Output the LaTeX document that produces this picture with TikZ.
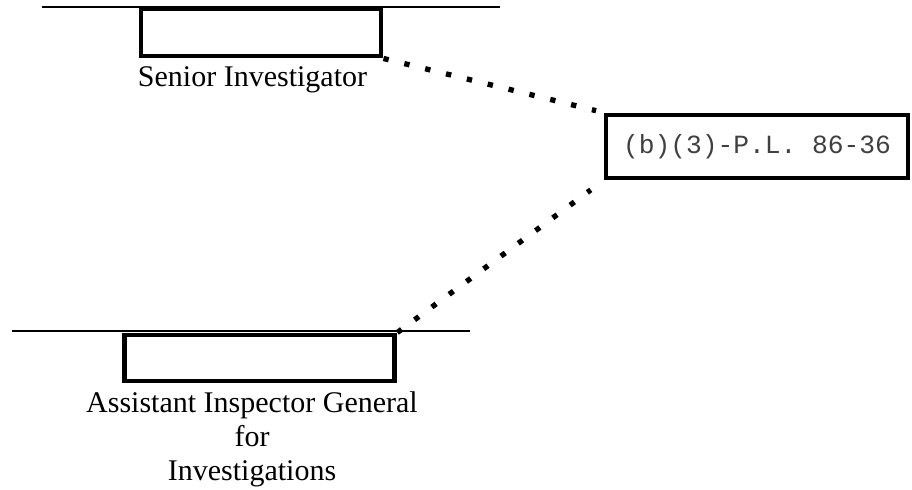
\documentclass[tikz,border=0pt]{standalone}
\usepackage{fontspec}
\setmainfont{Liberation Serif}
\setmonofont{Liberation Mono}
\begin{document}
\begin{tikzpicture}[x=0.75pt,y=-0.75pt,
  box/.style={draw=black,line width=3.7pt,inner sep=0pt,fill=white},
  rule/.style={draw=black,line width=1.1pt},
  dots/.style={draw=black,line width=4pt,line cap=butt,dash pattern=on 4pt off 12.1pt},
  lbl/.style={font=\fontsize{22.5pt}{25.5pt}\selectfont,inner sep=0pt,align=center},
  code/.style={font=\ttfamily\fontsize{19.7pt}{22pt}\selectfont,text=black!75,inner sep=0pt}]
\useasboundingbox (0,0) rectangle (912,489);
% rules
\coordinate (tl1) at (42,7);
\coordinate (tl2) at (500,7);
\coordinate (bl1) at (12,331);
\coordinate (bl2) at (470,331);
\draw[rule] (tl1) -- (tl2);
\draw[rule] (bl1) -- (bl2);
% boxes
\node[box,minimum width=180pt,minimum height=35.25pt] (tbox) at (261,32.5) {};
\node[box,minimum width=203pt,minimum height=34.5pt] (bbox) at (259.5,358) {};
\node[box,minimum width=226.5pt,minimum height=47.25pt,code] (rbox) at (757,146.5) {(b)(3)-P.L. 86-36};
% labels
\node[lbl,anchor=base] (tlab) at (252.5,86) {Senior Investigator};
\node[lbl,anchor=north] (blab) at (252,391) {Assistant Inspector General\\for\\Investigations};
% connectors
\draw[dots,shorten >=5.8pt] (tbox.south east) -- (rbox.north west);
\draw[dots,shorten >=11.9pt] (bbox.north east) -- (rbox.south west);
\end{tikzpicture}
\end{document}
